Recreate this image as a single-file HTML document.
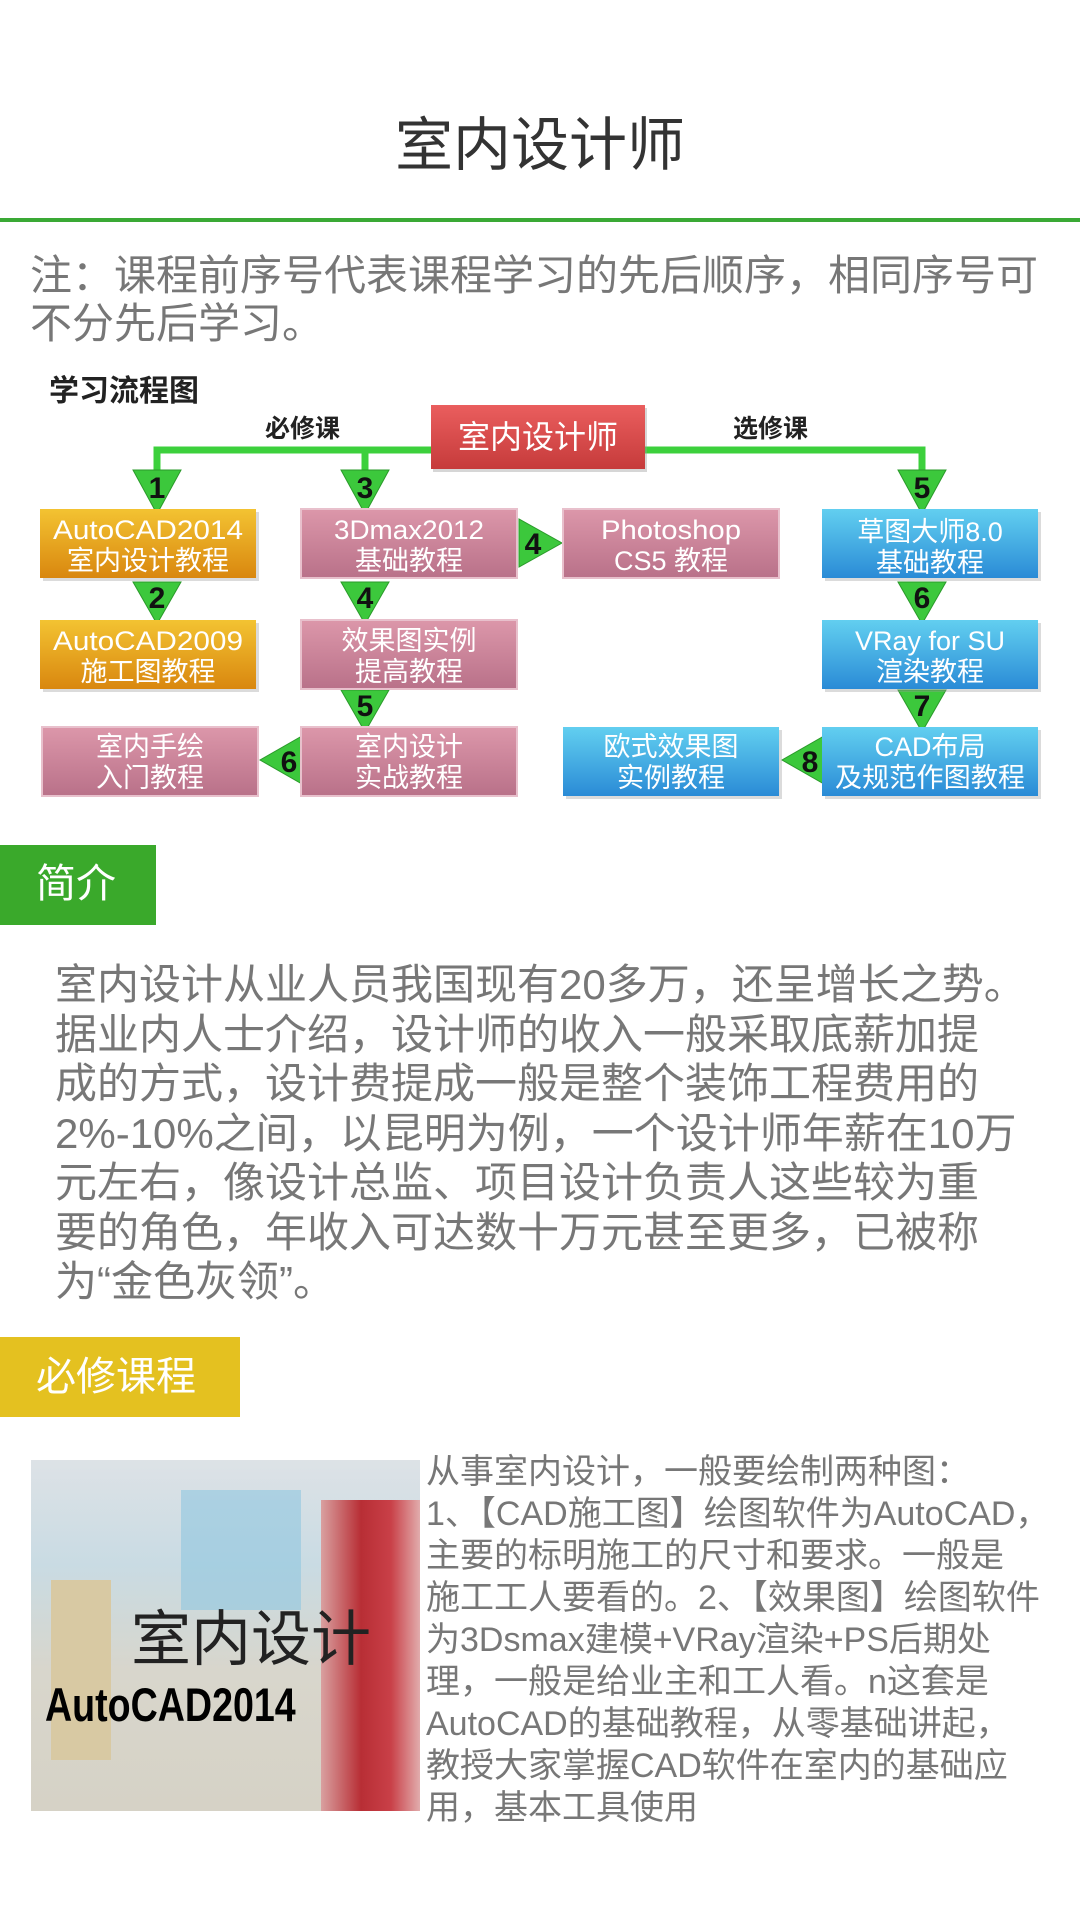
<!DOCTYPE html>
<html><head><meta charset="utf-8"><style>
*{margin:0;padding:0;box-sizing:border-box}
body{width:1080px;height:1920px;background:#fff;position:relative;overflow:hidden;font-family:"Liberation Sans","Noto Sans CJK SC",sans-serif}
.a{position:absolute;white-space:nowrap}
.g{color:#777}
</style></head><body>
<div class="a" style="left:0;width:1080px;top:110px;text-align:center;font-size:58px;line-height:72px;color:#333">室内设计师</div>
<div class="a" style="left:0;top:218px;width:1080px;height:4px;background:#3aa935"></div>
<div class="a g" style="left:30px;top:252px;font-size:42px;line-height:48px">注：课程前序号代表课程学习的先后顺序，相同序号可<br>不分先后学习。</div>

<svg class="a" style="left:0;top:360px" width="1080" height="460" viewBox="0 360 1080 460">
<defs>
<linearGradient id="o" x1="0" y1="0" x2="0" y2="1"><stop offset="0" stop-color="#f3c332"/><stop offset="1" stop-color="#d9870f"/></linearGradient>
<linearGradient id="p" x1="0" y1="0" x2="0" y2="1"><stop offset="0" stop-color="#dc97aa"/><stop offset="1" stop-color="#b97189"/></linearGradient>
<linearGradient id="b" x1="0" y1="0" x2="0" y2="1"><stop offset="0" stop-color="#62cff0"/><stop offset="1" stop-color="#2a8bd6"/></linearGradient>
<linearGradient id="r" x1="0" y1="0" x2="0" y2="1"><stop offset="0" stop-color="#ea5e5e"/><stop offset="1" stop-color="#c63b3b"/></linearGradient>
</defs>
<g font-family="Liberation Sans,Noto Sans CJK SC,sans-serif">
<text x="49" y="401" font-size="30" font-weight="bold" fill="#222">学习流程图</text>
<text x="265" y="437" font-size="25" font-weight="bold" fill="#222">必修课</text>
<text x="733" y="437" font-size="25" font-weight="bold" fill="#222">选修课</text>
<polyline points="157,475 157,450 645,450" fill="none" stroke="#3cd03c" stroke-width="7"/>
<polyline points="365,475 365,450" fill="none" stroke="#3cd03c" stroke-width="7"/>
<polyline points="645,450 922,450 922,475" fill="none" stroke="#3cd03c" stroke-width="7"/>
<rect x="433" y="408" width="214" height="64" fill="#999" opacity=".4"/>
<rect x="431" y="405" width="214" height="64" fill="url(#r)"/>
<text x="538" y="448" font-size="32" fill="#fff" text-anchor="middle">室内设计师</text>
<g fill="#3cc83c" stroke="#2a9a2a" stroke-width="1">
<polygon points="133,470 181,470 157,514"/>
<polygon points="341,470 389,470 365,514"/>
<polygon points="898,470 946,470 922,514"/>
<polygon points="133,582 181,582 157,624"/>
<polygon points="341,582 389,582 365,624"/>
<polygon points="898,582 946,582 922,624"/>
<polygon points="341,690 389,690 365,732"/>
<polygon points="898,690 946,690 922,732"/>
<polygon points="519,519 519,567 562,543"/>
<polygon points="302,736 302,784 260,760"/>
<polygon points="824,736 824,784 782,760"/>
</g>
<g font-size="30" font-weight="bold" fill="#111" text-anchor="middle">
<text x="157" y="498">1</text><text x="365" y="498">3</text><text x="922" y="498">5</text>
<text x="157" y="608">2</text><text x="365" y="608">4</text><text x="922" y="608">6</text>
<text x="365" y="716">5</text><text x="922" y="716">7</text>
<text x="533" y="554">4</text><text x="289" y="772">6</text><text x="810" y="772">8</text>
</g>
<g fill="#999" opacity=".35">
<rect x="43" y="512" width="216" height="69"/><rect x="43" y="623" width="216" height="69"/>
<rect x="825" y="512" width="216" height="69"/><rect x="825" y="623" width="216" height="69"/><rect x="825" y="730" width="216" height="69"/><rect x="566" y="730" width="216" height="69"/>
</g>
<rect x="40" y="509" width="216" height="69" fill="url(#o)"/>
<rect x="40" y="620" width="216" height="69" fill="url(#o)"/>
<g stroke="#e8c0cc" stroke-width="2">
<rect x="301" y="509" width="216" height="69" fill="url(#p)"/>
<rect x="563" y="509" width="216" height="69" fill="url(#p)"/>
<rect x="301" y="620" width="216" height="69" fill="url(#p)"/>
<rect x="301" y="727" width="216" height="69" fill="url(#p)"/>
<rect x="42" y="727" width="216" height="69" fill="url(#p)"/>
</g>
<rect x="822" y="509" width="216" height="69" fill="url(#b)"/>
<rect x="822" y="620" width="216" height="69" fill="url(#b)"/>
<rect x="822" y="727" width="216" height="69" fill="url(#b)"/>
<rect x="563" y="727" width="216" height="69" fill="url(#b)"/>
<g font-size="27" fill="#fff" text-anchor="middle" style="font-stretch:condensed">
<text x="148" y="539" textLength="190" lengthAdjust="spacingAndGlyphs">AutoCAD2014</text><text x="148" y="570">室内设计教程</text>
<text x="148" y="650" textLength="190" lengthAdjust="spacingAndGlyphs">AutoCAD2009</text><text x="148" y="681">施工图教程</text>
<text x="409" y="539" textLength="150" lengthAdjust="spacingAndGlyphs">3Dmax2012</text><text x="409" y="570">基础教程</text>
<text x="671" y="539" textLength="140" lengthAdjust="spacingAndGlyphs">Photoshop</text><text x="671" y="570">CS5 教程</text>
<text x="409" y="650">效果图实例</text><text x="409" y="681">提高教程</text>
<text x="409" y="756">室内设计</text><text x="409" y="787">实战教程</text>
<text x="150" y="756">室内手绘</text><text x="150" y="787">入门教程</text>
<text x="930" y="541">草图大师8.0</text><text x="930" y="572">基础教程</text>
<text x="930" y="650" textLength="150" lengthAdjust="spacingAndGlyphs">VRay for SU</text><text x="930" y="681">渲染教程</text>
<text x="930" y="756">CAD布局</text><text x="930" y="787" textLength="190" lengthAdjust="spacingAndGlyphs">及规范作图教程</text>
<text x="671" y="756">欧式效果图</text><text x="671" y="787">实例教程</text>
</g>
</g>
</svg>

<div class="a" style="left:0;top:845px;width:156px;height:80px;background:#3aa92b"></div>
<div class="a" style="left:36px;top:859px;font-size:40px;line-height:50px;color:#fff">简介</div>
<div class="a g" style="left:55px;top:960px;font-size:42px;line-height:49.5px">室内设计从业人员我国现有20多万，还呈增长之势。<br>据业内人士介绍，设计师的收入一般采取底薪加提<br>成的方式，设计费提成一般是整个装饰工程费用的<br>2%-10%之间，以昆明为例，一个设计师年薪在10万<br>元左右，像设计总监、项目设计负责人这些较为重<br>要的角色，年收入可达数十万元甚至更多，已被称<br>为“金色灰领”。</div>

<div class="a" style="left:0;top:1337px;width:240px;height:80px;background:#e4c120"></div>
<div class="a" style="left:36px;top:1352px;font-size:40px;line-height:50px;color:#fff">必修课程</div>

<div class="a" style="left:31px;top:1460px;width:389px;height:351px;background:linear-gradient(180deg,#dde2e6 0%,#c9dbe3 30%,#d8d6cc 60%,#d6d2c6 100%);overflow:hidden">
  <div style="position:absolute;left:150px;top:30px;width:120px;height:120px;background:#8fc7df;opacity:.6"></div>
  <div style="position:absolute;left:20px;top:120px;width:60px;height:180px;background:#d8c9a3"></div>
  <div style="position:absolute;left:290px;top:40px;width:100px;height:311px;background:linear-gradient(90deg,#d9a0a0,#b82e35 40%,#c94048 70%,#e2b0b0)"></div>
  <div style="position:absolute;left:100px;top:145px;font-size:60px;color:#222;line-height:70px">室内设计</div>
  <div style="position:absolute;left:14px;top:215px;font-size:47px;font-weight:bold;color:#000;line-height:60px;transform:scaleX(.8);transform-origin:left">AutoCAD2014</div>
</div>
<div class="a g" style="left:426px;top:1451px;font-size:34px;line-height:42px">从事室内设计，一般要绘制两种图：<br>1、【CAD施工图】绘图软件为AutoCAD，<br>主要的标明施工的尺寸和要求。一般是<br>施工工人要看的。2、【效果图】绘图软件<br>为3Dsmax建模+VRay渲染+PS后期处<br>理，一般是给业主和工人看。n这套是<br>AutoCAD的基础教程，从零基础讲起，<br>教授大家掌握CAD软件在室内的基础应<br>用，基本工具使用</div>
</body></html>
